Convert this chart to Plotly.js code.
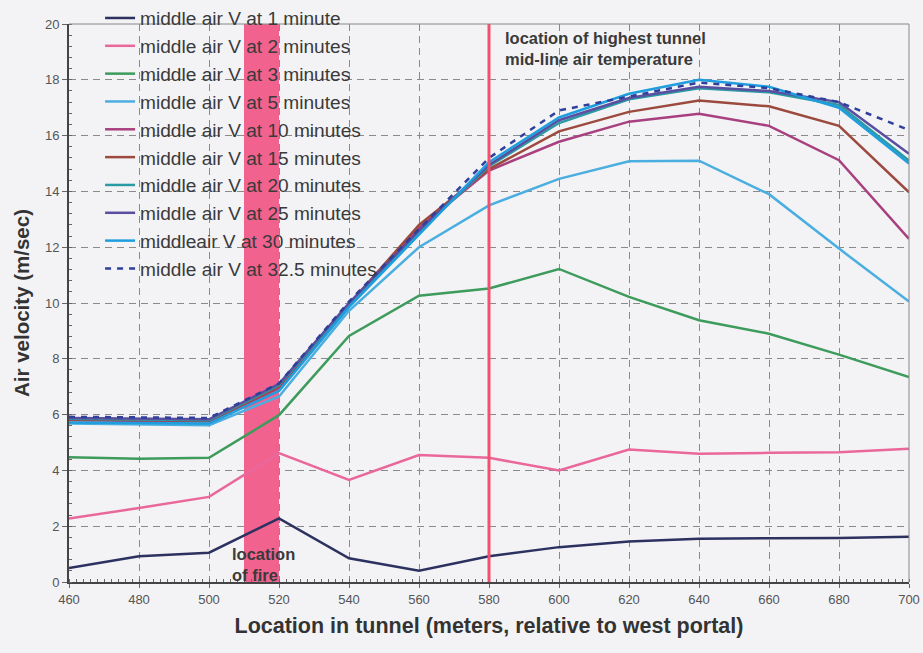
<!DOCTYPE html>
<html>
<head>
<meta charset="utf-8">
<script src="https://cdn.plot.ly/plotly-3.0.1.min.js"></script>
<style>
html,body{margin:0;padding:0;background:#f3f3f5;}
#chart{width:923px;height:653px;}
</style>
</head>
<body>
<div id="chart"></div>
<script>
// Location in tunnel (m)
const locations = [460,480,500,520,540,560,580,600,620,640,660,680,700];

// Middle air velocity (m/s) at each time
const v1min  = [0.50,0.92,1.05,2.28,0.85,0.40,0.92,1.25,1.45,1.55,1.57,1.58,1.62];
const v2min  = [2.28,2.65,3.05,4.62,3.66,4.55,4.45,4.00,4.75,4.60,4.63,4.65,4.78];
const v3min  = [4.47,4.42,4.45,5.98,8.82,10.26,10.52,11.22,10.22,9.38,8.90,8.15,7.35];
const v5min  = [5.68,5.65,5.62,6.65,9.72,12.00,13.50,14.45,15.08,15.10,13.90,11.95,10.05];
const v10min = [5.80,5.78,5.75,6.95,9.90,12.70,14.75,15.78,16.50,16.78,16.35,15.12,12.30];
const v15min = [5.82,5.80,5.78,7.00,9.95,12.80,14.80,16.15,16.85,17.26,17.05,16.35,13.97];
const v20min = [5.85,5.82,5.80,7.05,9.95,12.55,14.90,16.45,17.30,17.70,17.55,17.10,15.10];
const v25min = [5.88,5.85,5.83,7.10,10.00,12.60,14.95,16.55,17.35,17.75,17.60,17.20,15.35];
const v30min = [5.72,5.70,5.68,6.85,9.85,12.45,15.05,16.65,17.50,18.00,17.75,17.00,15.00];
const v32min = [5.92,5.90,5.88,7.12,10.05,12.65,15.20,16.90,17.40,17.90,17.70,17.20,16.20];

const seriesNames = [
  "middle air V at 1 minute","middle air V at 2 minutes","middle air V at 3 minutes",
  "middle air V at 5 minutes","middle air V at 10 minutes","middle air V at 15 minutes",
  "middle air V at 20 minutes","middle air V at 25 minutes","middleair V at 30 minutes",
  "middle air V at 32.5 minutes"
];
const seriesValues = [v1min,v2min,v3min,v5min,v10min,v15min,v20min,v25min,v30min,v32min];
const seriesColors = ["#2c3160","#e9679b","#3d9b5c","#4aaee0","#a8407f","#9c4a3e","#2b9aa5","#5a4ea0","#1e9ede","#2f3f9a"];
const seriesDash = ["solid","solid","solid","solid","solid","solid","solid","solid","solid","dot"];

// Annotated locations
const fireStart = 510, fireEnd = 520;
const hottestLocation = 580;

const traces = seriesNames.map((n,i)=>({
  type:"scatter", mode:"lines", name:n, x:locations, y:seriesValues[i],
  legendgroup:"g"+i,
  line:{color:seriesColors[i], width:2.5, dash: seriesDash[i]==="dot" ? "6px,6px" : "solid"}
}));

const layout = {
  width:923, height:653,
  paper_bgcolor:"#f3f3f5", plot_bgcolor:"#f3f3f5",
  margin:{l:69, r:14, t:24, b:71, autoexpand:false},
  font:{family:"Liberation Sans, Arial, sans-serif", color:"#444"},
  showlegend:true,
  legend:{x:0.037, y:1.0447, xanchor:"left", yanchor:"top", bgcolor:"rgba(0,0,0,0)",
    font:{size:19.1, color:"#3a3a3a"}, traceorder:"grouped", tracegroupgap:0,
    itemwidth:30},
  xaxis:{range:[460,700], dtick:20, tick0:460, showgrid:true, gridcolor:"#8a8a8a", griddash:"7px,5px", gridwidth:1,
    zeroline:false, showline:true, linecolor:"#444", linewidth:2, automargin:false,
    ticks:"outside", ticklen:4, tickcolor:"#666",
    minor:{dtick:2, ticks:"inside", ticklen:3, tickcolor:"#666", showgrid:false},
    tickfont:{size:13, color:"#555"},
    title:{text:"Location in tunnel (meters, relative to west portal)", font:{size:21.5, color:"#333", weight:"bold"}, standoff:12}
  },
  yaxis:{range:[0,20], dtick:2, showgrid:true, gridcolor:"#8a8a8a", griddash:"7px,5px", gridwidth:1,
    zeroline:false, showline:true, linecolor:"#444", linewidth:2, automargin:false,
    ticks:"outside", ticklen:5, tickcolor:"#666",
    minor:{dtick:0.4, ticks:"inside", ticklen:3, tickcolor:"#666", showgrid:false},
    tickfont:{size:13, color:"#555"},
    title:{text:"Air velocity (m/sec)", font:{size:20.5, color:"#333", weight:"bold"}, standoff:10}
  },
  shapes:[
    {type:"rect", xref:"x", yref:"y", x0:fireStart, x1:fireEnd, y0:-0.25, y1:20, layer:"between",
      fillcolor:"#f2628f", line:{width:0}},
    {type:"line", xref:"x", yref:"y", x0:hottestLocation, x1:hottestLocation, y0:-0.25, y1:20, layer:"above",
      line:{color:"#f2506e", width:3}},
    {type:"line", xref:"paper", yref:"paper", x0:0, x1:1, y0:1, y1:1, line:{color:"#888", width:1}},
    {type:"line", xref:"paper", yref:"paper", x0:1, x1:1, y0:0, y1:1, line:{color:"#888", width:1}}
  ],
  annotations:[
    {xref:"x", yref:"paper", x:515.6, y:-0.008, xanchor:"center", yanchor:"bottom", showarrow:false, align:"left",
      text:"location<br>of fire", font:{size:16.5, color:"#3a3a3a", weight:"bold"}},
    {xref:"x", yref:"paper", x:hottestLocation+4, y:0.995, xanchor:"left", yanchor:"top", showarrow:false, align:"left",
      text:"location of highest tunnel<br>mid-line air temperature", font:{size:16.5, color:"#3a3a3a", weight:"bold"}}
  ]
};

Plotly.newPlot("chart", traces, layout, {displayModeBar:false, staticPlot:true});
</script>
</body>
</html>
